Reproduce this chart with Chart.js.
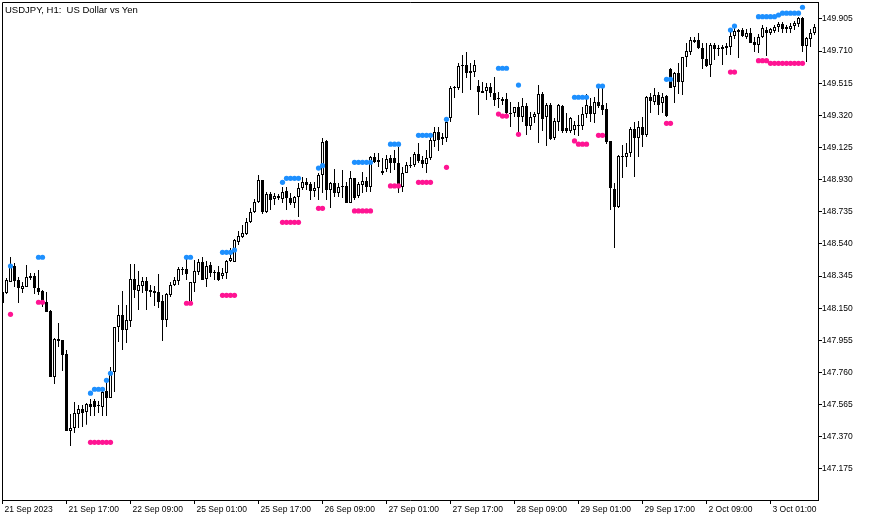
<!DOCTYPE html>
<html>
<head>
<meta charset="utf-8">
<title>USDJPY, H1</title>
<script src="https://cdn.jsdelivr.net/npm/chart.js@4.4.1/dist/chart.umd.min.js"></script>
<style>
  html, body { margin: 0; padding: 0; background: #fff; }
  #wrap { position: relative; width: 871px; height: 522px; }
  #title {
    position: absolute; left: 5px; top: 4px;
    font: 9.5px "Liberation Sans", Arial, sans-serif;
    line-height: 11px; color: #000; white-space: pre;
  }
</style>
</head>
<body>
<div id="wrap">
  <canvas id="chart" width="871" height="522"></canvas>
  <div id="title">USDJPY, H1:  US Dollar vs Yen</div>
</div>
<script>
// H1 bars, 21 Sep 2023 01:00 .. 3 Oct 2023 12:00 (204 bars)
const opens = [
  148.248, 148.242, 148.309, 148.406, 148.321, 148.266, 148.279, 148.333, 148.345, 148.272,
  148.254, 148.188, 148.133, 147.733, 147.951, 147.957, 147.872, 147.405, 147.423, 147.508,
  147.538, 147.520, 147.569, 147.587, 147.557, 147.550, 147.648, 147.605, 147.763, 148.036,
  148.109, 148.018, 148.072, 148.327, 148.254, 148.285, 148.315, 148.260, 148.254, 148.248,
  148.194, 148.078, 148.230, 148.291, 148.315, 148.388, 148.388, 148.182, 148.303, 148.370,
  148.430, 148.327, 148.412, 148.370, 148.370, 148.345, 148.363, 148.436, 148.430, 148.552,
  148.582, 148.600, 148.673, 148.734, 148.795, 148.928, 148.734, 148.843, 148.813, 148.831,
  148.813, 148.861, 148.819, 148.789, 148.825, 148.879, 148.916, 148.904, 148.861, 148.879,
  148.958, 149.164, 148.867, 148.910, 148.849, 148.892, 148.892, 148.789, 148.940, 148.831,
  148.898, 148.922, 148.886, 149.067, 149.037, 148.970, 148.995, 149.061, 149.061, 149.031,
  148.886, 148.970, 149.013, 149.019, 149.086, 149.049, 149.025, 149.061, 149.164, 149.219,
  149.177, 149.183, 149.304, 149.486, 149.486, 149.620, 149.626, 149.589, 149.583, 149.498,
  149.468, 149.468, 149.492, 149.456, 149.426, 149.420, 149.420, 149.334, 149.334, 149.371,
  149.310, 149.377, 149.256, 149.310, 149.328, 149.450, 149.310, 149.383, 149.183, 149.280,
  149.377, 149.243, 149.225, 149.231, 149.256, 149.256, 149.328, 149.377, 149.328, 149.401,
  149.383, 149.359, 149.164, 148.873, 148.764, 149.067, 149.067, 149.092, 149.237, 149.183,
  149.249, 149.201, 149.432, 149.401, 149.444, 149.395, 149.438, 149.601, 149.492, 149.577,
  149.523, 149.674, 149.705, 149.765, 149.778, 149.729, 149.662, 149.626, 149.747, 149.729,
  149.735, 149.729, 149.735, 149.802, 149.838, 149.838, 149.796, 149.820, 149.765, 149.747,
  149.796, 149.838, 149.820, 149.832, 149.856, 149.875, 149.844, 149.844, 149.862, 149.875,
  149.911, 149.741, 149.784, 149.820
];
const highs = [
  148.272, 148.333, 148.461, 148.424, 148.339, 148.309, 148.412, 148.363, 148.363, 148.382,
  148.260, 148.248, 148.139, 147.969, 148.060, 147.957, 147.896, 147.508, 147.581, 147.563,
  147.563, 147.575, 147.599, 147.599, 147.587, 147.672, 147.714, 147.793, 148.036, 148.169,
  148.254, 148.169, 148.418, 148.418, 148.376, 148.339, 148.339, 148.291, 148.285, 148.357,
  148.230, 148.242, 148.309, 148.339, 148.400, 148.400, 148.461, 148.309, 148.443, 148.449,
  148.461, 148.436, 148.430, 148.382, 148.406, 148.394, 148.443, 148.515, 148.570, 148.618,
  148.655, 148.697, 148.758, 148.813, 148.958, 148.928, 148.855, 148.855, 148.849, 148.843,
  148.886, 148.886, 148.849, 148.831, 148.910, 148.946, 148.940, 148.916, 148.916, 148.970,
  149.183, 149.171, 148.916, 148.995, 148.910, 148.989, 148.916, 148.983, 148.940, 148.916,
  148.977, 148.946, 149.073, 149.092, 149.092, 149.061, 149.079, 149.079, 149.110, 149.128,
  149.007, 149.037, 149.067, 149.098, 149.153, 149.073, 149.110, 149.213, 149.249, 149.249,
  149.213, 149.304, 149.498, 149.498, 149.638, 149.687, 149.705, 149.638, 149.656, 149.535,
  149.523, 149.516, 149.516, 149.553, 149.462, 149.432, 149.456, 149.401, 149.371, 149.401,
  149.426, 149.395, 149.340, 149.340, 149.504, 149.462, 149.395, 149.395, 149.304, 149.389,
  149.383, 149.334, 149.310, 149.286, 149.322, 149.371, 149.450, 149.426, 149.432, 149.486,
  149.492, 149.395, 149.164, 148.910, 149.079, 149.140, 149.153, 149.249, 149.280, 149.286,
  149.310, 149.438, 149.456, 149.486, 149.462, 149.456, 149.444, 149.608, 149.583, 149.638,
  149.674, 149.759, 149.796, 149.796, 149.820, 149.759, 149.759, 149.759, 149.759, 149.747,
  149.747, 149.759, 149.844, 149.869, 149.844, 149.850, 149.844, 149.850, 149.796, 149.814,
  149.869, 149.856, 149.850, 149.869, 149.887, 149.887, 149.869, 149.881, 149.893, 149.917,
  149.917, 149.796, 149.844, 149.875
];
const lows = [
  148.164, 148.236, 148.309, 148.279, 148.182, 148.242, 148.279, 148.321, 148.236, 148.230,
  148.157, 148.127, 147.733, 147.690, 147.914, 147.769, 147.405, 147.314, 147.393, 147.423,
  147.429, 147.442, 147.496, 147.496, 147.514, 147.496, 147.496, 147.605, 147.642, 147.945,
  147.896, 147.939, 148.036, 148.212, 148.139, 148.242, 148.139, 148.218, 148.164, 148.151,
  147.951, 148.036, 148.218, 148.285, 148.291, 148.351, 148.321, 148.182, 148.248, 148.351,
  148.321, 148.279, 148.339, 148.321, 148.315, 148.327, 148.327, 148.430, 148.430, 148.534,
  148.576, 148.594, 148.667, 148.728, 148.789, 148.722, 148.728, 148.746, 148.776, 148.807,
  148.789, 148.746, 148.776, 148.758, 148.703, 148.867, 148.867, 148.807, 148.825, 148.807,
  148.849, 148.807, 148.758, 148.825, 148.825, 148.819, 148.789, 148.789, 148.807, 148.819,
  148.849, 148.855, 148.855, 149.031, 149.007, 148.958, 148.977, 148.970, 148.989, 148.849,
  148.855, 148.970, 149.001, 149.007, 149.031, 149.001, 148.970, 149.049, 149.128, 149.104,
  149.140, 149.158, 149.280, 149.426, 149.474, 149.456, 149.547, 149.474, 149.553, 149.322,
  149.456, 149.414, 149.432, 149.377, 149.365, 149.383, 149.322, 149.249, 149.310, 149.219,
  149.280, 149.201, 149.231, 149.274, 149.153, 149.225, 149.134, 149.171, 149.171, 149.225,
  149.213, 149.213, 149.213, 149.201, 149.195, 149.231, 149.304, 149.280, 149.274, 149.365,
  149.322, 149.146, 148.746, 148.515, 148.758, 148.940, 149.007, 149.067, 148.946, 149.067,
  149.128, 149.189, 149.334, 149.383, 149.322, 149.334, 149.310, 149.486, 149.395, 149.450,
  149.444, 149.614, 149.687, 149.759, 149.723, 149.601, 149.614, 149.553, 149.656, 149.680,
  149.626, 149.687, 149.687, 149.784, 149.668, 149.796, 149.784, 149.759, 149.705, 149.699,
  149.790, 149.680, 149.808, 149.820, 149.826, 149.820, 149.820, 149.820, 149.838, 149.856,
  149.705, 149.644, 149.735, 149.808
];
const closes = [
  148.182, 148.321, 148.406, 148.315, 148.272, 148.285, 148.339, 148.345, 148.272, 148.248,
  148.194, 148.127, 147.733, 147.963, 147.963, 147.866, 147.405, 147.423, 147.514, 147.538,
  147.514, 147.569, 147.550, 147.550, 147.563, 147.642, 147.605, 147.763, 148.036, 148.109,
  148.018, 148.078, 148.327, 148.260, 148.291, 148.315, 148.254, 148.248, 148.242, 148.188,
  148.078, 148.236, 148.291, 148.321, 148.388, 148.382, 148.357, 148.309, 148.376, 148.430,
  148.321, 148.406, 148.363, 148.363, 148.321, 148.363, 148.436, 148.455, 148.564, 148.588,
  148.606, 148.673, 148.734, 148.795, 148.928, 148.734, 148.843, 148.807, 148.831, 148.819,
  148.855, 148.819, 148.789, 148.825, 148.879, 148.916, 148.898, 148.861, 148.879, 148.958,
  149.158, 148.867, 148.910, 148.849, 148.886, 148.886, 148.789, 148.940, 148.819, 148.904,
  148.922, 148.886, 149.067, 149.037, 149.049, 148.983, 149.055, 149.031, 149.031, 148.886,
  148.970, 149.019, 149.019, 149.086, 149.043, 149.025, 149.061, 149.171, 149.219, 149.171,
  149.189, 149.280, 149.486, 149.492, 149.620, 149.626, 149.577, 149.577, 149.626, 149.462,
  149.456, 149.492, 149.456, 149.414, 149.420, 149.407, 149.334, 149.328, 149.371, 149.310,
  149.377, 149.256, 149.310, 149.328, 149.450, 149.298, 149.383, 149.177, 149.286, 149.383,
  149.225, 149.225, 149.304, 149.262, 149.262, 149.328, 149.383, 149.328, 149.401, 149.377,
  149.353, 149.158, 148.879, 148.764, 149.073, 149.073, 149.092, 149.237, 149.183, 149.249,
  149.201, 149.432, 149.407, 149.444, 149.383, 149.432, 149.316, 149.486, 149.577, 149.523,
  149.674, 149.711, 149.778, 149.778, 149.729, 149.662, 149.620, 149.747, 149.723, 149.723,
  149.723, 149.741, 149.802, 149.832, 149.826, 149.802, 149.820, 149.759, 149.747, 149.796,
  149.850, 149.820, 149.844, 149.856, 149.875, 149.844, 149.856, 149.862, 149.881, 149.911,
  149.741, 149.790, 149.820, 149.856
];

// fractal levels: [bar index, price]
const upperDots = [
  [2, 148.406], [9, 148.459], [10, 148.459],
  [22, 147.634], [23, 147.658], [24, 147.658], [25, 147.658], [26, 147.712], [27, 147.755],
  [46, 148.459], [47, 148.459],
  [55, 148.489], [56, 148.489], [57, 148.489], [58, 148.503],
  [70, 148.914], [71, 148.938], [72, 148.938], [73, 148.938], [74, 148.938],
  [79, 149.000], [80, 149.015],
  [88, 149.035], [89, 149.035], [90, 149.035], [91, 149.035], [92, 149.035],
  [97, 149.145], [98, 149.145], [99, 149.145],
  [104, 149.199], [105, 149.199], [106, 149.199], [107, 149.199],
  [111, 149.296],
  [124, 149.606], [125, 149.606], [126, 149.606],
  [129, 149.504],
  [143, 149.430], [144, 149.430], [145, 149.430], [146, 149.430],
  [149, 149.498], [150, 149.498],
  [166, 149.539], [167, 149.539],
  [182, 149.838], [183, 149.862],
  [189, 149.919], [190, 149.919], [191, 149.919], [192, 149.919], [193, 149.919], [194, 149.929],
  [195, 149.940], [196, 149.940], [197, 149.940], [198, 149.940], [199, 149.940], [200, 149.976]
];
const lowerDots = [
  [2, 148.113], [9, 148.186], [10, 148.186],
  [22, 147.336], [23, 147.336], [24, 147.336], [25, 147.336], [26, 147.336], [27, 147.336],
  [46, 148.180], [47, 148.180],
  [55, 148.228], [56, 148.228], [57, 148.228], [58, 148.228],
  [70, 148.671], [71, 148.671], [72, 148.671], [73, 148.671], [74, 148.671],
  [79, 148.756], [80, 148.756],
  [88, 148.740], [89, 148.740], [90, 148.740], [91, 148.740], [92, 148.740],
  [97, 148.892], [98, 148.892], [99, 148.892],
  [104, 148.914], [105, 148.914], [106, 148.914], [107, 148.914],
  [111, 149.005],
  [124, 149.328], [125, 149.316], [126, 149.316],
  [129, 149.205],
  [143, 149.165], [144, 149.145], [145, 149.145], [146, 149.145],
  [149, 149.199], [150, 149.199],
  [166, 149.272], [167, 149.272],
  [182, 149.583], [183, 149.583],
  [189, 149.652], [190, 149.652], [191, 149.652],
  [192, 149.636], [193, 149.636], [194, 149.636], [195, 149.636], [196, 149.636],
  [197, 149.636], [198, 149.636], [199, 149.636], [200, 149.636]
];

// one label every 16 bars
const xLabels = [
  '21 Sep 2023', '21 Sep 17:00', '22 Sep 09:00', '25 Sep 01:00', '25 Sep 17:00',
  '26 Sep 09:00', '27 Sep 01:00', '27 Sep 17:00', '28 Sep 09:00', '29 Sep 01:00',
  '29 Sep 17:00', '2 Oct 09:00', '3 Oct 01:00'
];
const yTicks = [
  147.175, 147.370, 147.565, 147.760, 147.955, 148.150, 148.345, 148.540,
  148.735, 148.930, 149.125, 149.320, 149.515, 149.710, 149.905
];

const axisFont = { family: '"Liberation Sans", Arial, sans-serif', size: 8.5 };

// frame top/left
const frame = {
  id: 'frame',
  afterDraw(chart) {
    const { ctx, chartArea: a } = chart;
    ctx.save();
    ctx.strokeStyle = '#000';
    ctx.lineWidth = 1;
    ctx.beginPath();
    ctx.moveTo(a.left + 0.5, a.bottom);
    ctx.lineTo(a.left + 0.5, a.top + 0.5);
    ctx.lineTo(a.right, a.top + 0.5);
    ctx.stroke();
    ctx.restore();
  }
};

const bars = opens.map((o, i) => i);

new Chart(document.getElementById('chart'), {
  type: 'bar',
  data: {
    datasets: [
      {
        type: 'line',
        data: upperDots.map(d => ({ x: d[0], y: d[1] })),
        showLine: false,
        pointRadius: 2.6,
        pointBorderWidth: 0,
        pointBackgroundColor: '#1E90FF',
        borderColor: '#1E90FF',
        order: 0
      },
      {
        type: 'line',
        data: lowerDots.map(d => ({ x: d[0], y: d[1] })),
        showLine: false,
        pointRadius: 2.6,
        pointBorderWidth: 0,
        pointBackgroundColor: '#FF1493',
        borderColor: '#FF1493',
        order: 0
      },
      {
        // bodies
        data: bars.map(i => ({ x: i, y: [opens[i], closes[i]] })),
        backgroundColor: bars.map(i => closes[i] >= opens[i] ? '#fff' : '#000'),
        borderColor: '#000',
        borderWidth: 1,
        borderSkipped: false,
        inflateAmount: 0,
        minBarLength: 1,
        barThickness: 3,
        maxBarThickness: 3,
        grouped: false,
        order: 1
      },
      {
        // wicks
        data: bars.map(i => ({ x: i, y: [lows[i], highs[i]] })),
        backgroundColor: '#000',
        borderWidth: 0,
        borderSkipped: false,
        inflateAmount: 0,
        barThickness: 1,
        maxBarThickness: 1,
        grouped: false,
        order: 2
      }
    ]
  },
  options: {
    responsive: false,
    devicePixelRatio: 1,
    animation: false,
    events: [],
    layout: {
      autoPadding: false,
      padding: { left: 2, top: 2, right: 0, bottom: 0 }
    },
    plugins: {
      legend: { display: false },
      tooltip: { enabled: false }
    },
    scales: {
      x: {
        type: 'linear',
        offset: false,
        bounds: 'data',
        min: -0.125,
        max: 203.875,
        afterBuildTicks: s => { s.ticks = xLabels.map((_, i) => ({ value: i * 16 })); },
        afterFit: s => { s.height = 22; s.paddingLeft = 0; s.paddingRight = 0; },
        ticks: {
          color: '#000',
          font: axisFont,
          maxRotation: 0,
          autoSkip: false,
          align: 'start',
          labelOffset: 2,
          padding: 1,
          callback: v => xLabels[Math.round(v / 16)]
        },
        grid: { drawOnChartArea: false, color: '#000', tickLength: 4, offset: false },
        border: { color: '#000' }
      },
      y: {
        position: 'right',
        min: 146.986,
        max: 150.008,
        afterBuildTicks: s => { s.ticks = yTicks.map(v => ({ value: v })); },
        afterFit: s => { s.width = 53; s.paddingTop = 0; s.paddingBottom = 0; },
        ticks: {
          color: '#000',
          font: axisFont,
          padding: 0,
          callback: v => v.toFixed(3)
        },
        grid: { drawOnChartArea: false, color: '#000', tickLength: 4 },
        border: { color: '#000' }
      }
    }
  },
  plugins: [frame]
});
</script>
</body>
</html>
